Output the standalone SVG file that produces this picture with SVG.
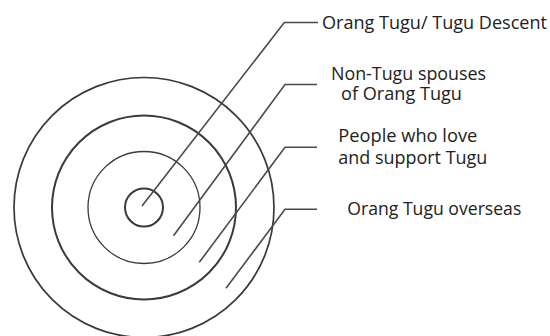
<svg xmlns="http://www.w3.org/2000/svg" width="550" height="336" viewBox="0 0 550 336">
  <style>
    .ring { fill: none; stroke: #3a3a3a; }
    .lead { fill: none; stroke: #4a4a4a; stroke-width: 1.6; stroke-linejoin: miter; }
    .lbl { font-family: "Open Sans", "Noto Sans", sans-serif; font-size: 18px; fill: #222; }
  </style>
  <rect width="550" height="336" fill="#ffffff"/>
  <g id="ring-overseas">
    <circle class="ring" cx="144" cy="207.5" r="130" stroke-width="1.7"/>
  </g>
  <g id="ring-supporters">
    <circle class="ring" cx="144" cy="207.5" r="92" stroke-width="2"/>
  </g>
  <g id="ring-spouses">
    <circle class="ring" cx="144" cy="207.5" r="56" stroke-width="1.3"/>
  </g>
  <g id="ring-descent">
    <circle class="ring" cx="144" cy="207.5" r="19" stroke-width="2"/>
  </g>
  <g id="connectors">
    <polyline class="lead" points="142,206 284.3,22.5 318,22.5"/>
    <polyline class="lead" points="173.5,235.7 285,84.5 317,84.5"/>
    <polyline class="lead" points="199.3,262.3 285,147.3 317,147.3"/>
    <polyline class="lead" points="226,288.3 285,209.3 317,209.3"/>
  </g>
  <g id="label-descent">
    <text class="lbl" x="322" y="28.5" textLength="225" lengthAdjust="spacingAndGlyphs">Orang Tugu/ Tugu Descent</text>
  </g>
  <g id="label-spouses">
    <text class="lbl" x="331" y="79.5" textLength="155" lengthAdjust="spacingAndGlyphs">Non-Tugu spouses</text>
    <text class="lbl" x="341" y="100" textLength="121" lengthAdjust="spacingAndGlyphs">of Orang Tugu</text>
  </g>
  <g id="label-supporters">
    <text class="lbl" x="338.3" y="141.7" textLength="139" lengthAdjust="spacingAndGlyphs">People who love</text>
    <text class="lbl" x="338.3" y="164.3" textLength="149" lengthAdjust="spacingAndGlyphs">and support Tugu</text>
  </g>
  <g id="label-overseas">
    <text class="lbl" x="347.3" y="215" textLength="174" lengthAdjust="spacingAndGlyphs">Orang Tugu overseas</text>
  </g>
</svg>
